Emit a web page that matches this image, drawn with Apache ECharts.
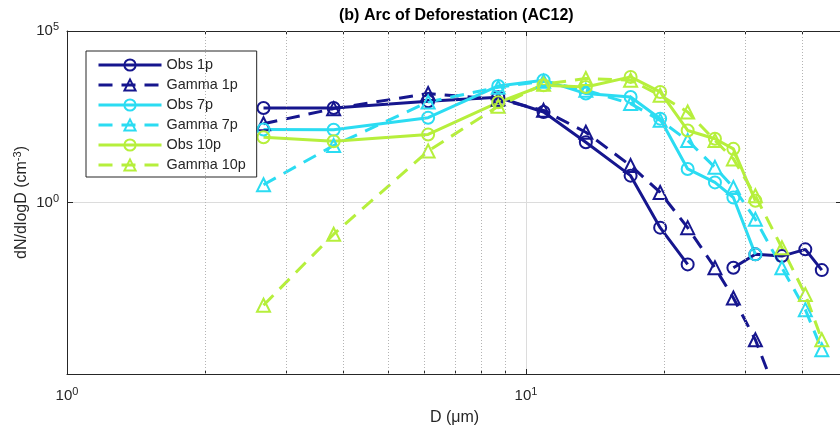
<!DOCTYPE html>
<html><head><meta charset="utf-8">
<script src="https://cdn.jsdelivr.net/npm/echarts@6/dist/echarts.min.js"></script>
<style>html,body{margin:0;padding:0;background:#fff}#c{width:840px;height:431px}</style>
</head><body><div id="c"></div>
<script>
// Diameter bins (µm)
const xBins = [2.68, 3.81, 6.12, 8.70, 10.92, 13.5, 16.9, 19.6, 22.5, 25.8, 28.3, 31.6, 36.1, 40.6, 44.1];
// dN/dlogD (cm^-3)
const obs1p   = [568, 568, 892, 1169, 434, 57.3, 6.06, 0.185, 0.0157, null, 0.0125, 0.0308, 0.0274, 0.0431, 0.0107];
const gamma1p = [198, 545, 1500, 1021, 486, 112, 11.9, 1.96, 0.185, 0.0125, 0.00165, 0.0000995, 0.000001, null, null];
const obs7p   = [135, 132, 297, 2505, 3680, 1500, 1192, 278, 9.52, 3.85, 1.40, 0.0308, null, null, null];
const gamma7p = [3.30, 45.8, 851, 2295, 3440, 1874, 764, 248, 64.2, 10.6, 2.75, 0.326, 0.0125, 0.000753, 0.0000507];
const obs10p  = [80.2, 61.2, 96.3, 834, 2625, 2340, 4595, 1671, 126, 72.0, 36.7, 1.12, null, null, null];
const gamma10p= [0.00101, 0.119, 31.6, 637, 2810, 4126, 3680, 1337, 434, 64.2, 18.7, 1.57, 0.048, 0.00207, 0.0000995];
const seriesNames = ['Obs 1p', 'Gamma 1p', 'Obs 7p', 'Gamma 7p', 'Obs 10p', 'Gamma 10p'];
const minorGridX = [2, 3, 4, 5, 6, 7, 8, 9, 20, 30, 40];

const navy = '#16168e', cyan = '#2bdcf2', lime = '#b6ef3c';
const FONT = 'Liberation Sans, Arial, Helvetica, sans-serif';
const axisColor = '#262626';
const X_MAX = 48.8;

function pairs(ys) { return xBins.map((x, i) => [x, ys[i] == null ? '-' : ys[i]]); }
function mk(name, ys, color, dashed) {
  return {
    name: name, type: 'line', data: pairs(ys),
    xAxisIndex: 0, yAxisIndex: 0,
    symbol: dashed ? 'triangle' : 'circle',
    symbolSize: dashed ? 13 : 12,
    showAllSymbol: true, connectNulls: false, clip: true,
    lineStyle: { color: color, width: 3, type: dashed ? [14, 9] : 'solid' },
    itemStyle: { color: 'rgba(255,255,255,0)', borderColor: color, borderWidth: 2 },
    emphasis: { disabled: true }
  };
}
const supLabel = function (v) {
  const e = Math.log10(v);
  if (Math.abs(e - Math.round(e)) > 1e-6) return '';
  return '{b|10}{s|' + Math.round(e) + '}';
};
const rich = { b: { fontSize: 15, color: axisColor, fontFamily: FONT }, s: { fontSize: 11, color: axisColor, fontFamily: FONT, padding: [0, 0, 8, 0] } };

const chart = echarts.init(document.getElementById('c'), null, { renderer: 'canvas' });
chart.setOption({
  animation: false,
  backgroundColor: '#fff',
  textStyle: { fontFamily: FONT },
  title: { text: '(b) Arc of Deforestation (AC12)', left: 339, top: 8, padding: 0,
    textStyle: { fontSize: 16, fontWeight: 'bold', color: '#000', fontFamily: FONT } },
  grid: { left: 67, right: -2, top: 31, bottom: 57, containLabel: false, outerBoundsMode: 'none' },
  legend: {
    data: seriesNames, orient: 'vertical', left: 86, top: 51,
    padding: [7, 11, 5, 11], itemWidth: 63, itemHeight: 14, itemGap: 6,
    backgroundColor: '#fff', borderColor: axisColor, borderWidth: 1,
    lineStyle: { width: 3 },
    textStyle: { fontSize: 14.4, color: axisColor, fontFamily: FONT },
    selectedMode: false
  },
  xAxis: [{
    type: 'log', logBase: 10, min: 1, max: X_MAX, interval: 1,
    name: 'D (μm)', nameLocation: 'middle', nameGap: 36,
    nameTextStyle: { fontSize: 16, color: axisColor, fontFamily: FONT },
    axisLine: { show: true, lineStyle: { color: axisColor, width: 1 } },
    axisTick: { show: true, inside: true, length: 5, lineStyle: { color: axisColor } },
    minorTick: { show: true, splitNumber: 9, length: 4, lineStyle: { color: axisColor } },
    axisLabel: { formatter: supLabel, rich: rich, margin: 12 },
    splitLine: { show: true, lineStyle: { color: '#dcdcdc', width: 1 } }
  }, {
    type: 'log', logBase: 10, min: 1, max: X_MAX, interval: 1, position: 'top',
    axisLine: { show: true, lineStyle: { color: axisColor, width: 1 } },
    axisTick: { show: true, inside: true, length: 5, lineStyle: { color: axisColor } },
    minorTick: { show: true, splitNumber: 9, length: 4, lineStyle: { color: axisColor } },
    axisLabel: { show: false }, splitLine: { show: false }
  }],
  yAxis: [{
    type: 'log', logBase: 10, min: 1e-5, max: 1e5, interval: 5,
    name: 'dN/dlogD (cm{s|-3})', nameLocation: 'middle', nameGap: 35, nameRotate: 90,
    nameMoveOverlap: false,
    nameTextStyle: { fontSize: 16, color: axisColor, fontFamily: FONT,
      rich: { s: { fontSize: 11, color: axisColor, fontFamily: FONT, padding: [0, 0, 9, 0] } } },
    axisLine: { show: true, lineStyle: { color: axisColor, width: 1 } },
    axisTick: { show: true, inside: true, length: 6, lineStyle: { color: axisColor } },
    axisLabel: { formatter: function (v) { return Math.abs(Math.log10(v) + 5) < 1e-6 ? '' : supLabel(v); }, rich: rich, margin: 8 },
    splitLine: { show: true, lineStyle: { color: '#dcdcdc', width: 1 } }
  }, {
    type: 'log', logBase: 10, min: 1e-5, max: 1e5, interval: 5, position: 'right',
    axisLine: { show: true, lineStyle: { color: axisColor, width: 1 } },
    axisTick: { show: true, inside: true, length: 6, lineStyle: { color: axisColor } },
    axisLabel: { show: false }, splitLine: { show: false }
  }],
  series: [
    { name: 'minorGrid', type: 'line', data: [], xAxisIndex: 0, yAxisIndex: 0, z: 1,
      markLine: { silent: true, symbol: ['none', 'none'], label: { show: false },
        lineStyle: { color: '#b4b4b4', type: [1, 2], width: 1 },
        data: minorGridX.map(v => ({ xAxis: v })) } },
    mk('Obs 1p', obs1p, navy, false),
    mk('Gamma 1p', gamma1p, navy, true),
    mk('Obs 7p', obs7p, cyan, false),
    mk('Gamma 7p', gamma7p, cyan, true),
    mk('Obs 10p', obs10p, lime, false),
    mk('Gamma 10p', gamma10p, lime, true)
  ]
});
</script></body></html>
